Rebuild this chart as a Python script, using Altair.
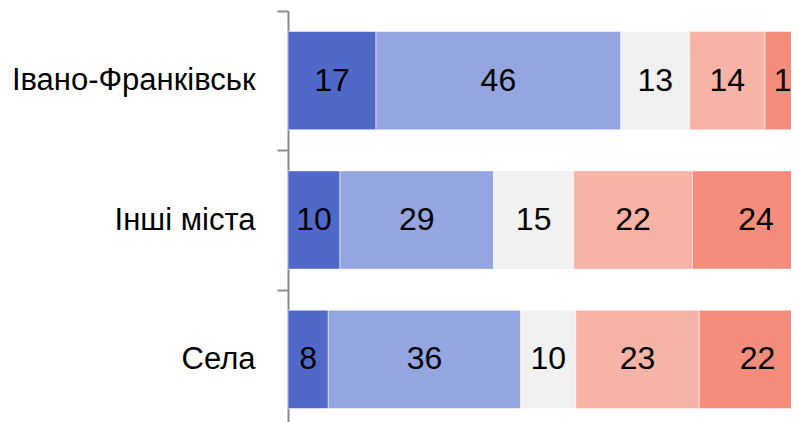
import altair as alt
import pandas as pd

cities = ["Івано-Франківськ", "Інші міста", "Села"]
answers = ["Дуже добре", "Скоріше добре", "Важко сказати", "Скоріше погано", "Дуже погано"]
colors = ["#5068C8", "#95A5DF", "#F1F1F1", "#F8B3A7", "#F58D7C"]

ivano_frankivsk = [16.6, 46.2, 13.0, 14.2, 10.0]
other_cities = [9.8, 29.0, 15.1, 22.4, 24.0]
villages = [7.6, 36.3, 10.4, 23.3, 22.0]

rows = []
for city, vals in zip(cities, [ivano_frankivsk, other_cities, villages]):
    for i, (a, v) in enumerate(zip(answers, vals)):
        rows.append({"city": city, "answer": a, "order": i, "value": v})
df = pd.DataFrame(rows)

FONT = "Liberation Sans Narrow, Arial Narrow, Liberation Sans, Arial, sans-serif"

base = alt.Chart(df).transform_stack(
    stack="value", as_=["x0", "x1"], groupby=["city"],
    sort=[alt.SortField("order", order="ascending")]
).transform_calculate(mid="(datum.x0 + datum.x1) / 2")

xscale = alt.Scale(domain=[0, 100], range=[0, 530], nice=False, zero=True)
yscale = alt.Scale(domain=cities, range=[0, 418], paddingInner=0, paddingOuter=0)

y_enc = alt.Y("city:N", sort=cities, scale=yscale, title=None,
              axis=alt.Axis(labelFont=FONT, labelFontSize=31, labelColor="black",
                            labelPadding=22, tickSize=11, tickWidth=2, tickColor="#8c8c8c",
                            domainColor="#8c8c8c", domainWidth=2, tickBand="extent",
                            grid=False, labelLimit=400))

bars = base.mark_bar(stroke="white", strokeWidth=1, strokeOpacity=0.5,
                     height={"band": 0.705}).encode(
    x=alt.X("x0:Q", scale=xscale, axis=None),
    x2="x1:Q",
    y=y_enc,
    color=alt.Color("answer:N", scale=alt.Scale(domain=answers, range=colors), legend=None),
)

labels = base.mark_text(font=FONT, fontSize=32, color="black", baseline="middle", align="center").encode(
    x=alt.X("mid:Q", scale=xscale, axis=None),
    y=alt.Y("city:N", sort=cities, scale=yscale),
    text=alt.Text("value:Q", format=".0f"),
)

chart = (bars + labels).properties(
    width=503, height=411,
    autosize=alt.AutoSizeParams(type="none"),
    padding={"left": 280, "top": 3, "right": 0, "bottom": 0},
).configure_view(stroke=None)

chart.save("out.html", embed_options={"renderer": "svg", "actions": False})
